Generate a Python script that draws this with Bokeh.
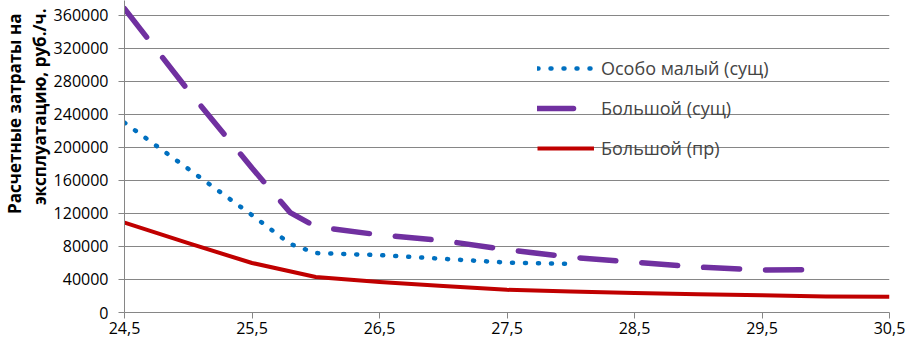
from bokeh.plotting import figure
from bokeh.models import FixedTicker, Range1d, Legend, LegendItem, Title
from bokeh.embed import file_html
from bokeh.resources import INLINE

# data
x_small = [24.5, 25.0, 25.5, 25.8, 26.0, 26.5, 27.0, 27.5, 28.0]
y_small = [230000, 174000, 118000, 83000, 72000, 69500, 65000, 60500, 59000]

x_big = [24.5, 25.0, 25.5, 25.8, 26.0, 26.5, 27.0, 27.5, 28.0, 28.5, 29.0, 29.5, 30.0]
y_big = [368000, 269000, 175000, 121000, 104000, 94000, 87000, 76000, 67000, 61000, 55000, 51500, 52000]

x_pr = [24.5, 25.0, 25.5, 26.0, 26.5, 27.0, 27.5, 28.0, 28.5, 29.0, 29.5, 30.0, 30.5]
y_pr = [109000, 84000, 60000, 43000, 37000, 32000, 27500, 25500, 23500, 22000, 21000, 19500, 19000]

x_ticks = [24.5, 25.5, 26.5, 27.5, 28.5, 29.5, 30.5]
x_tick_labels = ["24,5", "25,5", "26,5", "27,5", "28,5", "29,5", "30,5"]
y_ticks = [0, 40000, 80000, 120000, 160000, 200000, 240000, 280000, 320000, 360000]

names = ["Особо малый (сущ)", "Большой (сущ)", "Большой (пр)"]
y_title = ["Расчетные затраты на", "эксплуатацию, руб./ч."]

FONT = "Open Sans"
GRID = "#868686"

p = figure(width=906, height=348, output_backend="svg", toolbar_location=None,
           x_range=Range1d(24.5, 30.5), y_range=Range1d(0, 378000),
           min_border_left=124, min_border_right=17, min_border_top=0, min_border_bottom=36)
p.outline_line_color = None
p.xgrid.grid_line_color = None
p.ygrid.grid_line_color = GRID
p.ygrid.grid_line_width = 1

p.xaxis.ticker = FixedTicker(ticks=x_ticks)
p.xaxis.major_label_overrides = {t: l for t, l in zip(x_ticks, x_tick_labels)}
p.yaxis.ticker = FixedTicker(ticks=y_ticks)
p.yaxis.major_label_overrides = {t: str(t) for t in y_ticks}
for ax in (p.xaxis, p.yaxis):
    ax.axis_line_color = GRID
    ax.major_tick_line_color = GRID
    ax.minor_tick_line_color = None
    ax.major_tick_in = 0
    ax.major_tick_out = 6
    ax.major_label_text_font = FONT
    ax.major_label_text_font_size = "16px"
    ax.major_label_text_color = "black"
p.yaxis.major_label_standoff = 10
p.xaxis.major_label_standoff = 3

r_small = p.line(x_small, y_small, line_color="#0070C0", line_width=4.5,
                 line_dash="1 12", line_cap="round")
r_big = p.line(x_big, y_big, line_color="#7030A0", line_width=5.5,
               line_dash="36 26", line_cap="round")
r_pr = p.line(x_pr, y_pr, line_color="#C00000", line_width=4, line_join="round")

legend = Legend(items=[LegendItem(label=names[0], renderers=[r_small]),
                       LegendItem(label=names[1], renderers=[r_big]),
                       LegendItem(label=names[2], renderers=[r_pr])],
                location=(413, 151), orientation="vertical",
                glyph_width=57, glyph_height=26, label_height=26, spacing=14,
                label_standoff=7, padding=0, margin=0,
                border_line_color=None, background_fill_alpha=0,
                label_text_font=FONT, label_text_font_size="18px")
p.add_layout(legend)

# two-line y axis title, inner line first (closest to the axis)
for txt, off in [(y_title[1], 8), (y_title[0], 13)]:
    p.add_layout(Title(text=txt, align="right", offset=off, standoff=0,
                       text_font=FONT, text_font_size="17px",
                       text_font_style="bold", text_color="black"), "left")

open("out.html", "w").write(file_html(p, INLINE))
